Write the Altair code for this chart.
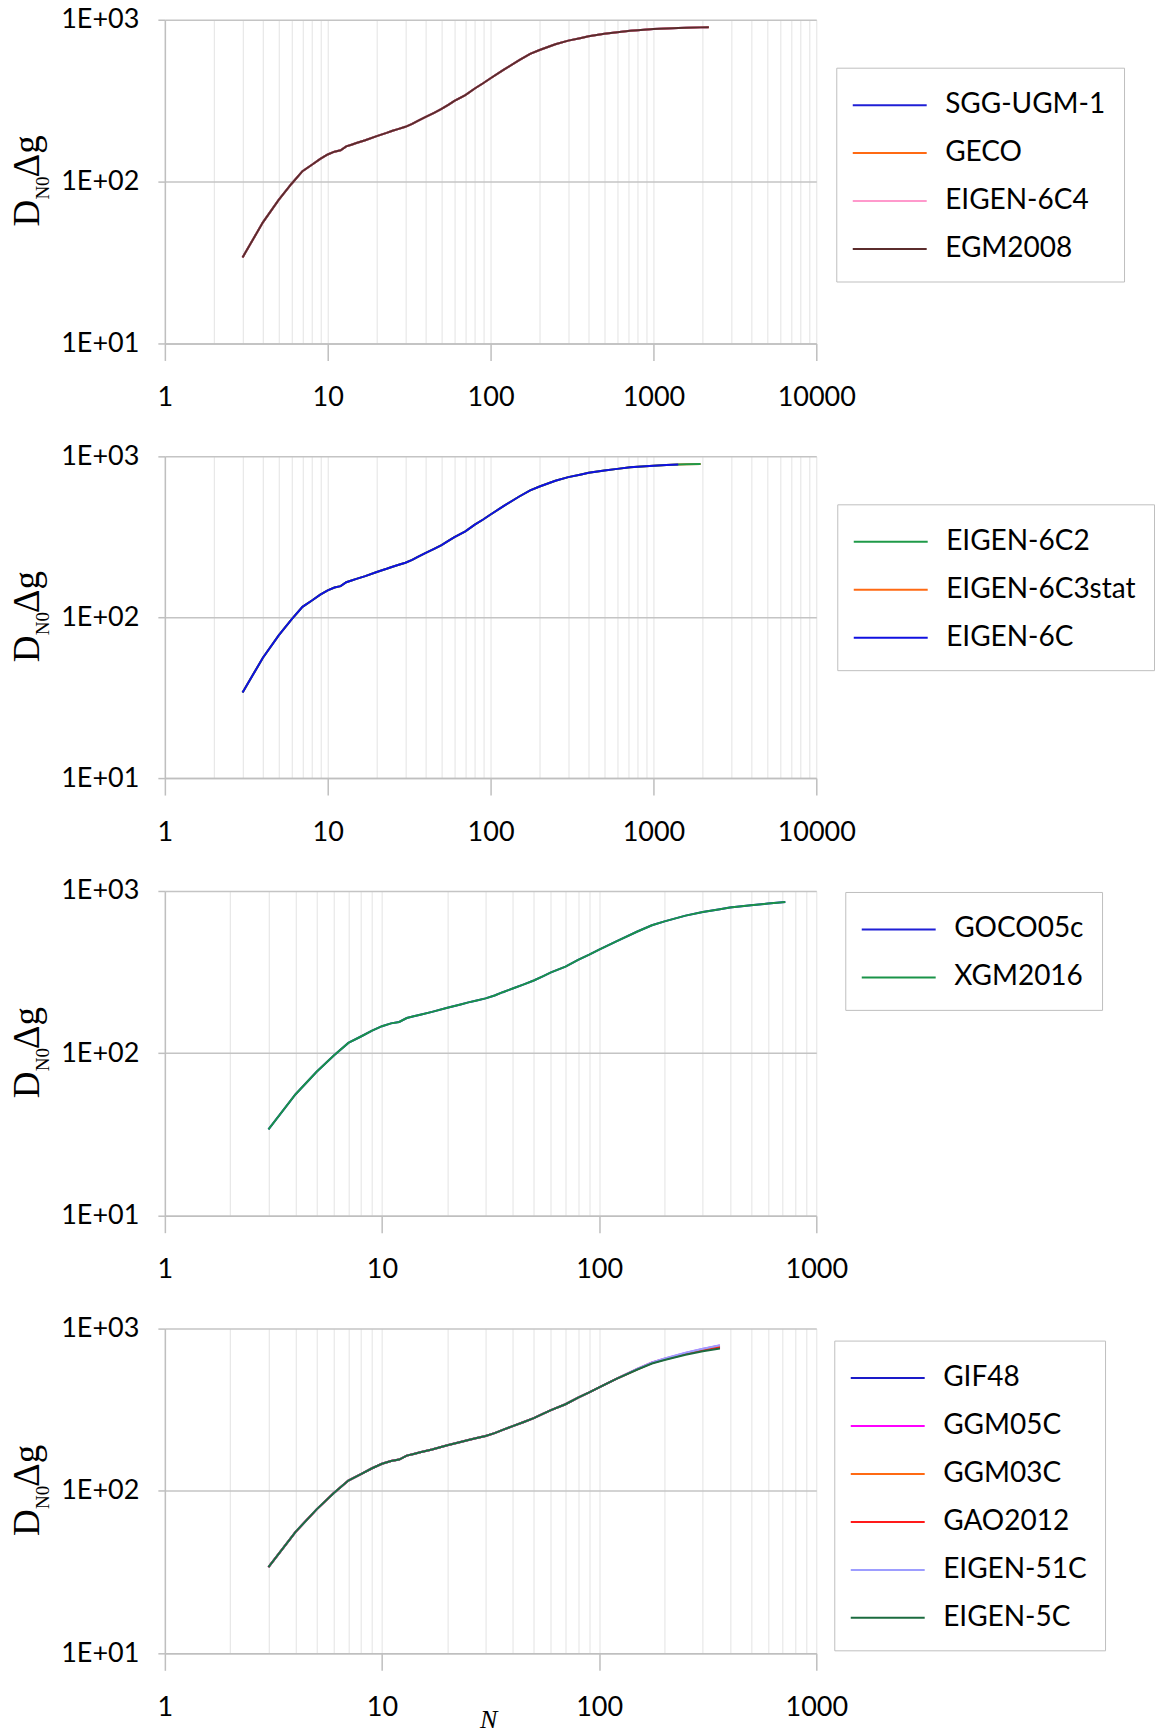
import altair as alt
import pandas as pd

# ---- values (common to all models) ----
N_VALS = [3, 4, 5, 6, 7, 8, 9, 10, 11, 12, 13, 14, 15, 17, 20, 23, 25, 27, 30, 33,
          36, 40, 45, 50, 55, 60, 70, 80, 90, 100, 120, 150, 175, 200, 250, 300,
          360, 400, 500, 600, 720, 800, 1000, 1200, 1420, 1600, 1949, 2159, 2190]
D_VALS = [34, 56, 77, 97, 116, 127, 138, 147, 153, 156, 165, 169, 173, 180, 191, 200,
          206, 211, 218, 227, 238, 251, 266, 281, 298, 315, 342, 376, 405, 435, 490,
          563, 615, 650, 705, 743, 772, 790, 818, 836, 855, 862, 875, 884, 890, 893,
          897, 898, 898]

# panel 4: the six curves separate slightly at the high-degree end
TAIL_N = [150, 175, 200, 250, 300, 360]
TAIL = {
    "GIF48":     [563, 614, 648, 700, 738, 772],
    "GGM05C":    [565, 618, 653, 708, 748, 786],
    "GGM03C":    [564, 616, 650, 703, 742, 778],
    "GAO2012":   [562, 613, 645, 697, 733, 765],
    "EIGEN-51C": [566, 619, 655, 710, 751, 789],
    "EIGEN-5C":  [560, 609, 640, 690, 725, 754],
}

# ---- panels: legend order, max degree, colours, drawing order ----
P1_MODELS = ["SGG-UGM-1", "GECO", "EIGEN-6C4", "EGM2008"]
P1_NMAX = [2159, 2190, 2190, 2190]
P1_COLORS = ["#1f1fd6", "#ff6a13", "#ff99cc", "#5b2c2c"]
P1_DRAW = ["SGG-UGM-1", "GECO", "EIGEN-6C4", "EGM2008"]

P2_MODELS = ["EIGEN-6C2", "EIGEN-6C3stat", "EIGEN-6C"]
P2_NMAX = [1949, 1949, 1420]
P2_COLORS = ["#1f9a48", "#ff6a13", "#1010e0"]
P2_DRAW = ["EIGEN-6C3stat", "EIGEN-6C2", "EIGEN-6C"]

P3_MODELS = ["GOCO05c", "XGM2016"]
P3_NMAX = [720, 720]
P3_COLORS = ["#1f1fd6", "#1a9348"]
P3_DRAW = ["GOCO05c", "XGM2016"]

P4_MODELS = ["GIF48", "GGM05C", "GGM03C", "GAO2012", "EIGEN-51C", "EIGEN-5C"]
P4_NMAX = [360, 360, 360, 360, 360, 360]
P4_COLORS = ["#1a1ac8", "#ff00ff", "#ff6a13", "#ff1a1a", "#9d9dff", "#1b6b3f"]
P4_DRAW = ["GIF48", "GGM05C", "GGM03C", "GAO2012", "EIGEN-51C", "EIGEN-5C"]

LABEL_FONT = "Lato"
SERIF = "Liberation Serif"
GRID_MINOR = "#e3e3e3"
GRID_MAJOR = "#c4c4c4"
AXIS_COL = "#bfbfbf"


def series(model, nmax):
    rows = []
    tail = dict(zip(TAIL_N, TAIL[model])) if model in TAIL else {}
    for n, d in zip(N_VALS, D_VALS):
        if n <= nmax:
            rows.append({"N": n, "D": tail.get(n, d), "model": model})
    return pd.DataFrame(rows)


def x_values(xmax):
    vals = []
    dec = 1
    while dec < xmax:
        vals += [dec * k for k in range(1, 10)]
        dec *= 10
    vals.append(xmax)
    return vals


def panel(models, nmax, colors, draw, xmax, height, legx, legy, with_n=False):
    decades = "[1, 10, 100, 1000, 10000]"
    is_dec = f"indexof({decades}, datum.value) >= 0"
    xs = alt.Scale(type="log", domain=[1, xmax], nice=False)
    ys = alt.Scale(type="log", domain=[10, 1000], nice=False)
    xaxis = alt.Axis(
        values=x_values(xmax), format="d",
        labelExpr=f"{is_dec} ? datum.label : ''",
        grid=True, gridColor=GRID_MINOR, gridWidth=1,
        domainColor=AXIS_COL, domainWidth=1.5,
        tickColor=AXIS_COL, tickWidth=1.5, tickSize=17,
        tickOpacity={"condition": {"test": is_dec, "value": 1}, "value": 0},
        labelFont=LABEL_FONT, labelFontSize=27, labelColor="black",
        labelPadding=24, labelFlush=False, labelOverlap=False, title=None,
    )
    yaxis = alt.Axis(
        values=[10, 100, 1000],
        labelExpr="datum.value >= 999 ? '1E+03' : (datum.value >= 99 ? '1E+02' : '1E+01')",
        grid=True, gridColor=GRID_MAJOR, gridWidth=1.5,
        domainColor=AXIS_COL, domainWidth=1.5,
        tickColor=AXIS_COL, tickWidth=1.5, tickSize=7,
        labelFont=LABEL_FONT, labelFontSize=27, labelColor="black",
        labelPadding=19, labelFlush=False, labelOverlap=False, title=None,
    )
    legend = alt.Legend(
        orient="none", legendX=legx, legendY=legy, direction="vertical",
        title=None, symbolType="M-2,0H2", symbolSize=1369, symbolStrokeWidth=2,
        symbolOffset=16,
        labelFont=LABEL_FONT, labelFontSize=28, labelColor="black", labelLimit=500,
        labelOffset=36, rowPadding=14, padding=18,
        strokeColor=AXIS_COL, fillColor="white",
    )
    cscale = alt.Scale(domain=models, range=colors)
    nm = dict(zip(models, nmax))
    layers = []
    for m in draw:
        layers.append(
            alt.Chart(series(m, nm[m])).mark_line(strokeWidth=2).encode(
                x=alt.X("N:Q", scale=xs, axis=xaxis),
                y=alt.Y("D:Q", scale=ys, axis=yaxis),
                color=alt.Color("model:N", scale=cscale, legend=legend),
            )
        )
    dummy = pd.DataFrame({"a": [0]})
    shift = (height - 324) / 2
    layers.append(alt.Chart(dummy).mark_text(
        text="D", font=SERIF, fontSize=37, angle=270, align="left",
        baseline="alphabetic", color="black").encode(
        x=alt.value(-126), y=alt.value(207 + shift)))
    layers.append(alt.Chart(dummy).mark_text(
        text="N0", font=SERIF, fontSize=19, angle=270, align="left",
        baseline="alphabetic", color="black").encode(
        x=alt.value(-116), y=alt.value(180 + shift)))
    layers.append(alt.Chart(dummy).mark_text(
        text="Δg", font=SERIF, fontSize=37, angle=270, align="left",
        baseline="alphabetic", color="black").encode(
        x=alt.value(-126), y=alt.value(158 + shift)))
    if with_n:
        layers.append(alt.Chart(dummy).mark_text(
            text="N", font=SERIF, fontStyle="italic", fontSize=26, align="center",
            baseline="alphabetic", color="black").encode(
            x=alt.value(324), y=alt.value(400)))
    return alt.layer(*layers).properties(width=652, height=height)


p1 = panel(P1_MODELS, P1_NMAX, P1_COLORS, P1_DRAW, 10000, 324, 672, 48)
p2 = panel(P2_MODELS, P2_NMAX, P2_COLORS, P2_DRAW, 10000, 322, 673, 48)
p3 = panel(P3_MODELS, P3_NMAX, P3_COLORS, P3_DRAW, 1000, 325, 681, 1)
p4 = panel(P4_MODELS, P4_NMAX, P4_COLORS, P4_DRAW, 1000, 325, 670, 12, with_n=True)

chart = alt.vconcat(p1, p2, p3, p4, spacing=113, bounds="flush").resolve_scale(
    color="independent"
).properties(
    padding={"left": 8, "top": 4, "right": 0, "bottom": 0}
).configure(font=LABEL_FONT).configure_view(stroke="transparent")

chart.save("out.html", embed_options={"renderer": "svg", "actions": False})
